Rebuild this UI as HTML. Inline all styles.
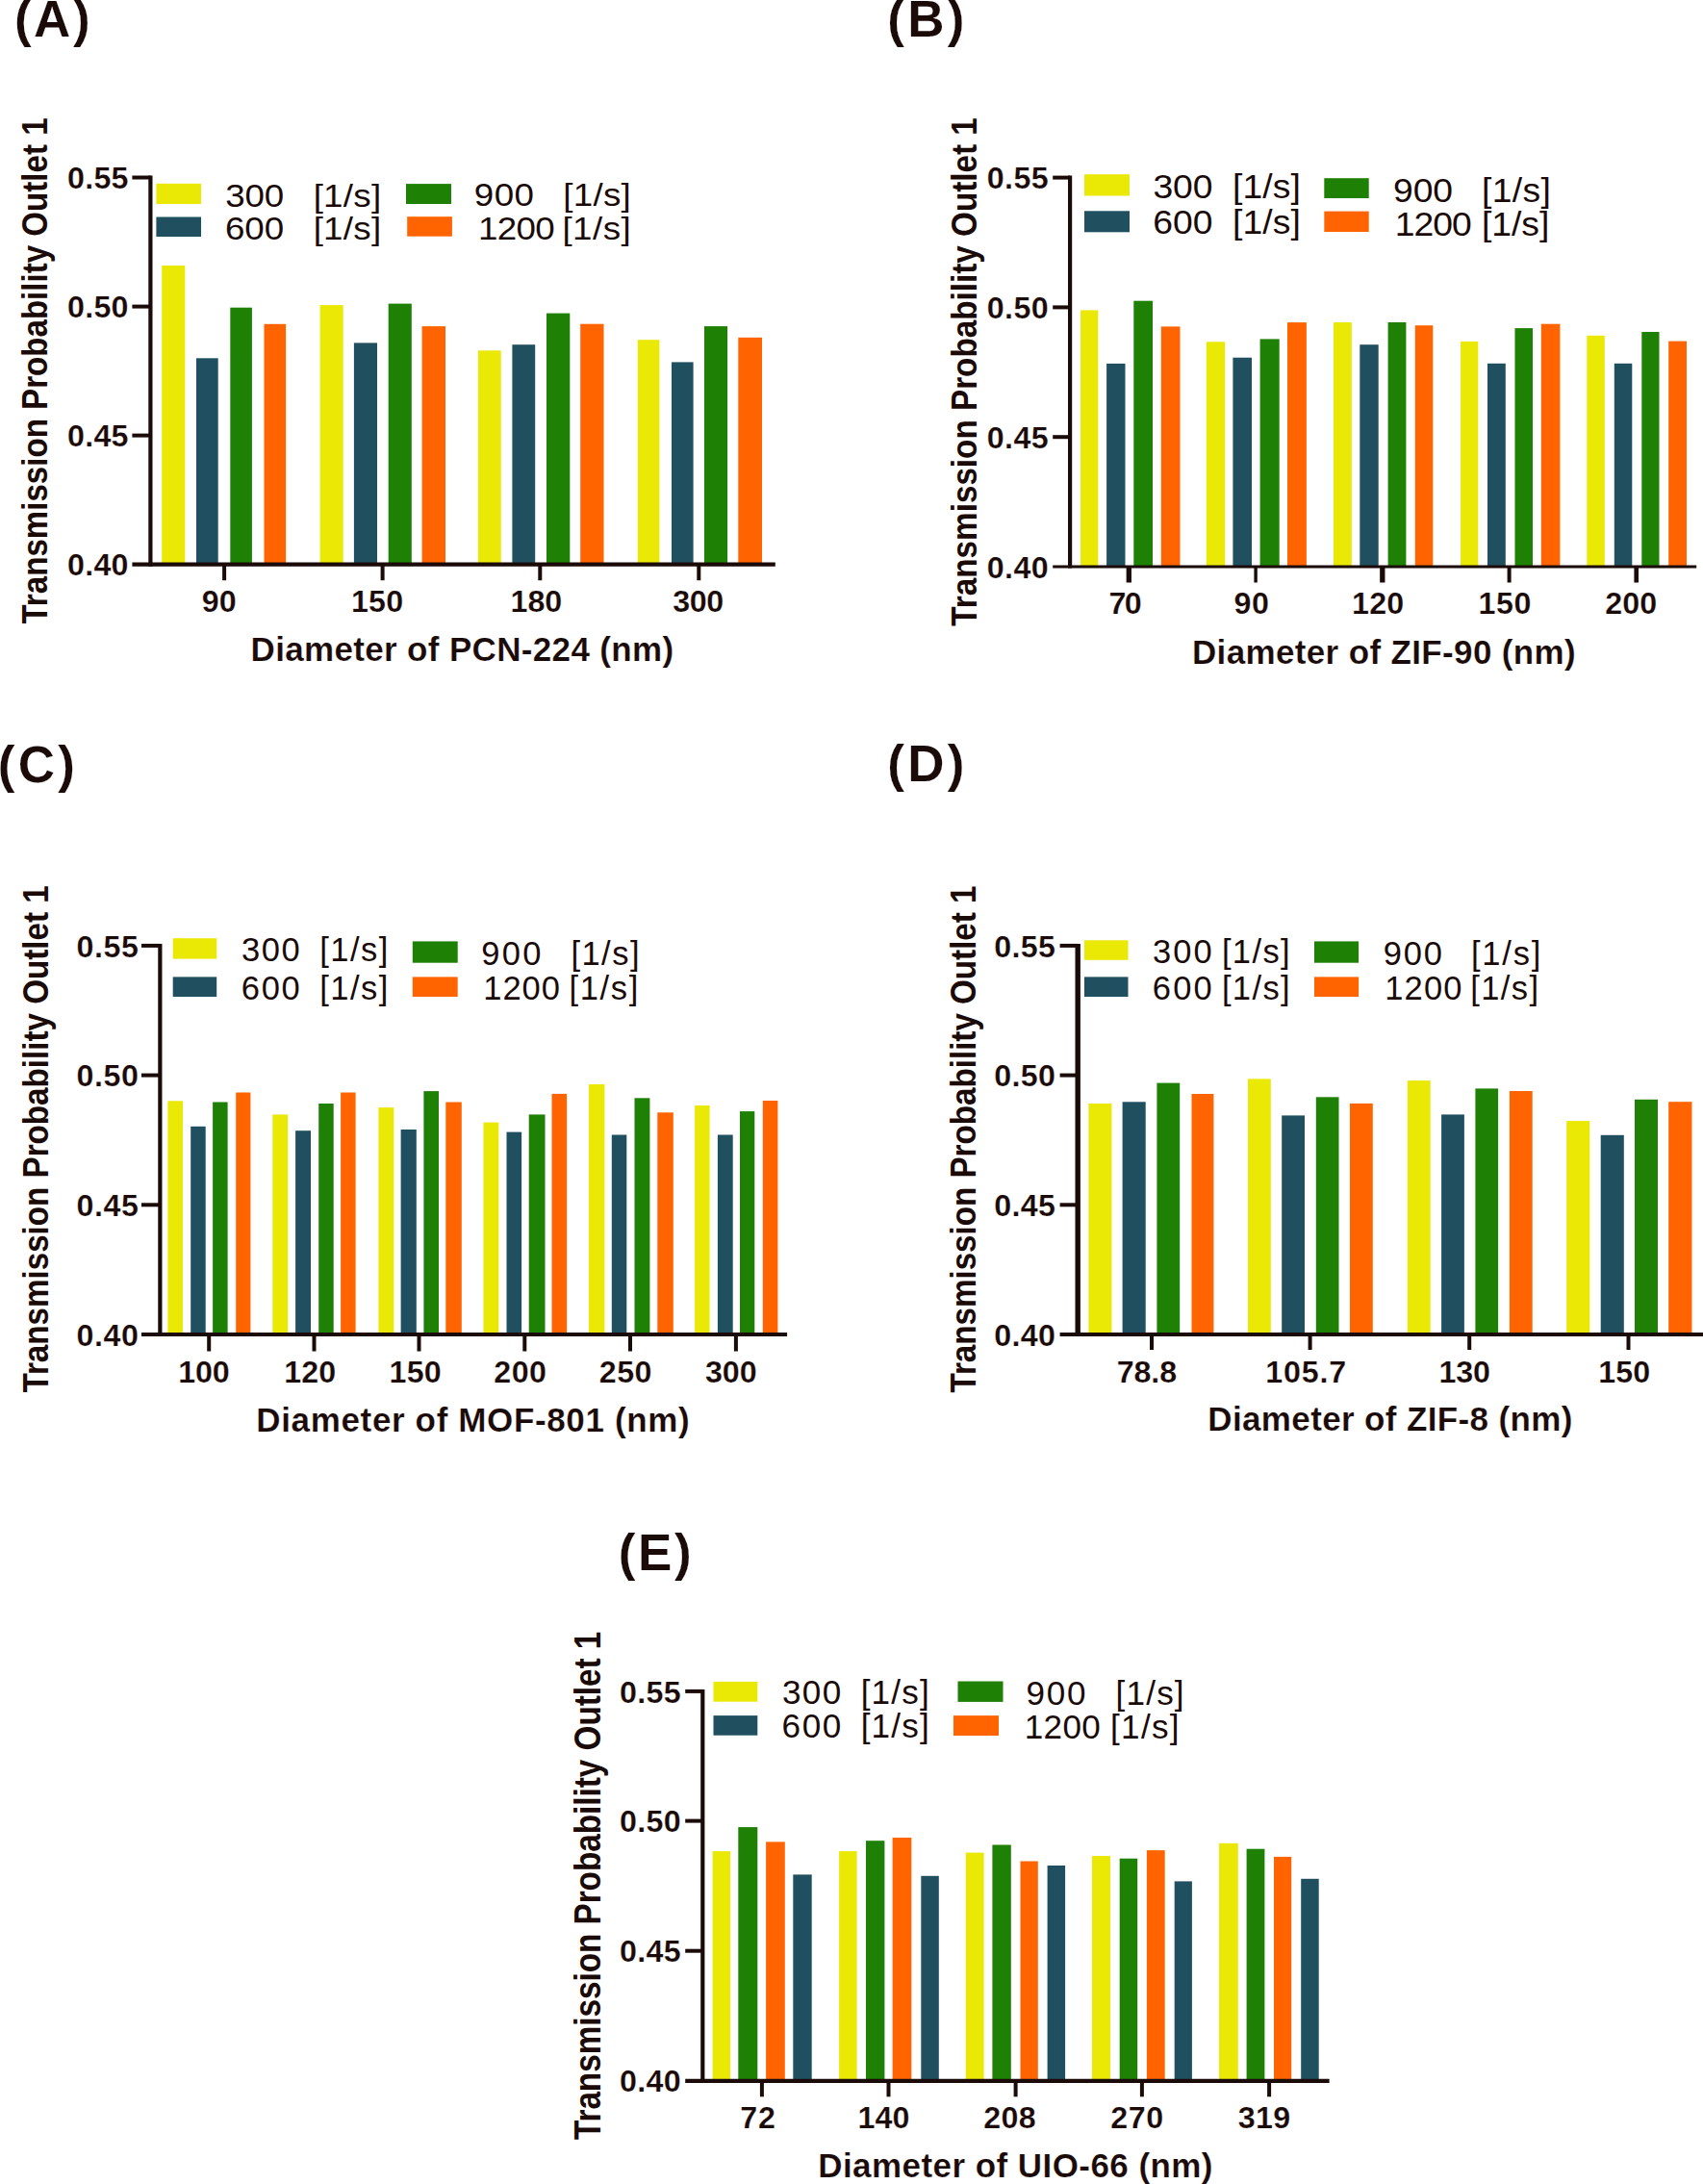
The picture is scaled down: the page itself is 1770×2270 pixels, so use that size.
<!DOCTYPE html>
<html lang="en"><head><meta charset="utf-8"><title>Transmission probability charts</title>
<style>
html,body{margin:0;padding:0;background:#fff}
body{width:1770px;height:2270px;overflow:hidden}
svg{display:block}
svg text.r{font-weight:400;stroke-width:0}
svg text.v{stroke-width:0}
svg text{font-family:"Liberation Sans",sans-serif;font-weight:700;fill:#1a0a08;stroke:#fff;stroke-width:.2px}
</style></head><body>
<svg width="1770" height="2270" viewBox="0 0 1770 2270">
<g>
<rect x="168.2" y="276" width="24.1" height="310.7" fill="#eae805"/>
<rect x="204" y="372.3" width="22.7" height="214.4" fill="#20505f"/>
<rect x="239.3" y="319.7" width="22.6" height="267" fill="#1e8005"/>
<rect x="274.5" y="336.8" width="22.6" height="249.9" fill="#ff6400"/>
<rect x="332.6" y="317.1" width="24.1" height="269.6" fill="#eae805"/>
<rect x="367.9" y="356.4" width="24.1" height="230.3" fill="#20505f"/>
<rect x="403.7" y="315.6" width="24.1" height="271.1" fill="#1e8005"/>
<rect x="438.6" y="339.1" width="24.4" height="247.6" fill="#ff6400"/>
<rect x="496.9" y="364.3" width="23.8" height="222.4" fill="#eae805"/>
<rect x="532.4" y="358.2" width="23.8" height="228.5" fill="#20505f"/>
<rect x="568" y="325.6" width="24.3" height="261.1" fill="#1e8005"/>
<rect x="603.2" y="336.7" width="24.3" height="250" fill="#ff6400"/>
<rect x="662.8" y="353.2" width="22.6" height="233.5" fill="#eae805"/>
<rect x="698" y="376.4" width="22.6" height="210.3" fill="#20505f"/>
<rect x="732" y="339.1" width="24.1" height="247.6" fill="#1e8005"/>
<rect x="767.3" y="350.8" width="24.7" height="235.9" fill="#ff6400"/>
<path d="M156.4 182.5L156.4 588.8" stroke="#1a0a08" stroke-width="4.2"/>
<path d="M137.4 586.7L805.8 586.7" stroke="#1a0a08" stroke-width="4.2"/>
<path d="M137.4 184.5L156.4 184.5" stroke="#1a0a08" stroke-width="4"/>
<path d="M137.4 318.6L156.4 318.6" stroke="#1a0a08" stroke-width="4"/>
<path d="M137.4 452.6L156.4 452.6" stroke="#1a0a08" stroke-width="4"/>
<path d="M233.1 586.7L233.1 603.2" stroke="#1a0a08" stroke-width="4"/>
<path d="M397.6 586.7L397.6 603.2" stroke="#1a0a08" stroke-width="4"/>
<path d="M561.3 586.7L561.3 603.2" stroke="#1a0a08" stroke-width="4"/>
<path d="M726.3 586.7L726.3 603.2" stroke="#1a0a08" stroke-width="4"/>
<text transform="translate(70.01 196.1) scale(1.03 1)" font-size="31.3" letter-spacing="0.26">0.55</text>
<text transform="translate(70.01 330.2) scale(1.03 1)" font-size="31.3" letter-spacing="0.26">0.50</text>
<text transform="translate(70.01 464.2) scale(1.03 1)" font-size="31.3" letter-spacing="0.26">0.45</text>
<text transform="translate(70.01 598.3) scale(1.03 1)" font-size="31.3" letter-spacing="0.26">0.40</text>
<text transform="translate(209.67 635.8) scale(1.03 1)" font-size="31.3" letter-spacing="0.13">90</text>
<text transform="translate(364.9 635.8) scale(1.03 1)" font-size="31.3" letter-spacing="0.25">150</text>
<text transform="translate(530.6 635.8) scale(1.03 1)" font-size="31.3" letter-spacing="-0.05">180</text>
<text transform="translate(699.19 635.8) scale(1.03 1)" font-size="31.3" letter-spacing="-0.33">300</text>
<text transform="translate(260.53 686.7)" font-size="35" letter-spacing="0.34">Diameter of PCN-224 (nm)</text>
<text class="v" transform="translate(49.3 648.53) rotate(-90) scale(1 1.1162)" font-size="33.11">Transmission Probability Outlet 1</text>
<text transform="translate(14.95 38)" font-size="53" letter-spacing="2.52">(A)</text>
<rect x="162.4" y="190.8" width="46.6" height="21.2" fill="#eae805"/>
<rect x="162.4" y="225.5" width="46.6" height="20.5" fill="#20505f"/>
<rect x="422" y="191.1" width="47" height="20.9" fill="#1e8005"/>
<rect x="423.2" y="225.2" width="46.7" height="20.5" fill="#ff6400"/>
<text transform="translate(234.33 214.5) scale(1.08 1)" font-size="34" letter-spacing="-0.19" class="r">300</text>
<text transform="translate(325.63 214.5) scale(1.08 1)" font-size="34" letter-spacing="0.26" class="r">[1/s]</text>
<text transform="translate(233.96 249.1) scale(1.08 1)" font-size="34" letter-spacing="-0.02" class="r">600</text>
<text transform="translate(325.63 249.1) scale(1.08 1)" font-size="34" letter-spacing="0.26" class="r">[1/s]</text>
<text transform="translate(492.85 214.1) scale(1.08 1)" font-size="34" letter-spacing="0.36" class="r">900</text>
<text transform="translate(585.33 214.1) scale(1.08 1)" font-size="34" letter-spacing="0.26" class="r">[1/s]</text>
<text transform="translate(497.05 248.5) scale(1.08 1)" font-size="34" letter-spacing="-0.61" class="r">1200</text>
<text transform="translate(584.43 248.5) scale(1.08 1)" font-size="34" letter-spacing="0.45" class="r">[1/s]</text>
</g>
<g>
<rect x="1123.1" y="322.4" width="18.2" height="266.6" fill="#eae805"/>
<rect x="1150.1" y="377.9" width="19.4" height="211.1" fill="#20505f"/>
<rect x="1178.3" y="312.7" width="19.7" height="276.3" fill="#1e8005"/>
<rect x="1206.8" y="339.4" width="19.7" height="249.6" fill="#ff6400"/>
<rect x="1253.8" y="355.3" width="19.4" height="233.7" fill="#eae805"/>
<rect x="1281.4" y="371.7" width="19.6" height="217.3" fill="#20505f"/>
<rect x="1309.6" y="352.4" width="20.1" height="236.6" fill="#1e8005"/>
<rect x="1338" y="335.1" width="19.9" height="253.9" fill="#ff6400"/>
<rect x="1386" y="335" width="18.8" height="254" fill="#eae805"/>
<rect x="1413.3" y="358.2" width="19.4" height="230.8" fill="#20505f"/>
<rect x="1442.6" y="335" width="18.8" height="254" fill="#1e8005"/>
<rect x="1470.8" y="338.2" width="18.5" height="250.8" fill="#ff6400"/>
<rect x="1518.1" y="354.9" width="18.2" height="234.1" fill="#eae805"/>
<rect x="1546" y="377.8" width="18.8" height="211.2" fill="#20505f"/>
<rect x="1574.5" y="341.1" width="18.5" height="247.9" fill="#1e8005"/>
<rect x="1601.8" y="336.7" width="19.6" height="252.3" fill="#ff6400"/>
<rect x="1649.3" y="348.8" width="18.5" height="240.2" fill="#eae805"/>
<rect x="1677.8" y="377.8" width="18.5" height="211.2" fill="#20505f"/>
<rect x="1706.3" y="345" width="18.2" height="244" fill="#1e8005"/>
<rect x="1734.2" y="354.6" width="18.8" height="234.4" fill="#ff6400"/>
<path d="M1112.1 182.6L1112.1 590.4" stroke="#1a0a08" stroke-width="4.2"/>
<path d="M1094.2 589L1763.2 589" stroke="#1a0a08" stroke-width="2.8"/>
<path d="M1094.2 184.6L1112.1 184.6" stroke="#1a0a08" stroke-width="4"/>
<path d="M1094.2 319.4L1112.1 319.4" stroke="#1a0a08" stroke-width="4"/>
<path d="M1094.2 454.2L1112.1 454.2" stroke="#1a0a08" stroke-width="4"/>
<path d="M1173.3 589L1173.3 605.5" stroke="#1a0a08" stroke-width="5.3"/>
<path d="M1305.1 589L1305.1 605.5" stroke="#1a0a08" stroke-width="3.4"/>
<path d="M1436.8 589L1436.8 605.5" stroke="#1a0a08" stroke-width="5.3"/>
<path d="M1568.6 589L1568.6 605.5" stroke="#1a0a08" stroke-width="4"/>
<path d="M1700.7 589L1700.7 605.5" stroke="#1a0a08" stroke-width="4.6"/>
<text transform="translate(1025.81 196.2) scale(1.03 1)" font-size="31.3" letter-spacing="0.35">0.55</text>
<text transform="translate(1025.81 331) scale(1.03 1)" font-size="31.3" letter-spacing="0.35">0.50</text>
<text transform="translate(1025.81 465.8) scale(1.03 1)" font-size="31.3" letter-spacing="0.35">0.45</text>
<text transform="translate(1025.81 600.6) scale(1.03 1)" font-size="31.3" letter-spacing="0.35">0.40</text>
<text transform="translate(1152.55 638.1) scale(1.03 1)" font-size="31.3" letter-spacing="-1.6">70</text>
<text transform="translate(1282.57 638.1) scale(1.03 1)" font-size="31.3" letter-spacing="0.42">90</text>
<text transform="translate(1405 638.1) scale(1.03 1)" font-size="31.3" letter-spacing="0.25">120</text>
<text transform="translate(1536.5 638.1) scale(1.03 1)" font-size="31.3" letter-spacing="0.54">150</text>
<text transform="translate(1668.17 638.1) scale(1.03 1)" font-size="31.3" letter-spacing="0.07">200</text>
<text transform="translate(1238.92 689.6)" font-size="35" letter-spacing="0.36">Diameter of ZIF-90 (nm)</text>
<text class="v" transform="translate(1014.5 650.63) rotate(-90) scale(1 1.1374)" font-size="33.26">Transmission Probability Outlet 1</text>
<text transform="translate(922.25 38)" font-size="53" letter-spacing="3.26">(B)</text>
<rect x="1127" y="181.2" width="47" height="22.3" fill="#eae805"/>
<rect x="1127" y="219.3" width="47" height="22" fill="#20505f"/>
<rect x="1376.3" y="185.2" width="46.4" height="20.8" fill="#1e8005"/>
<rect x="1376.3" y="219.6" width="46.4" height="21.4" fill="#ff6400"/>
<text transform="translate(1198.51 206.1) scale(1.05 1)" font-size="35.5" letter-spacing="-0.13" class="r">300</text>
<text transform="translate(1280.89 206.1) scale(1.05 1)" font-size="35.5" letter-spacing="0.16" class="r">[1/s]</text>
<text transform="translate(1198.14 243.4) scale(1.05 1)" font-size="35.5" letter-spacing="0.04" class="r">600</text>
<text transform="translate(1280.89 243.4) scale(1.05 1)" font-size="35.5" letter-spacing="0.16" class="r">[1/s]</text>
<text transform="translate(1448.02 209.9) scale(1.05 1)" font-size="35.5" letter-spacing="-0.09" class="r">900</text>
<text transform="translate(1539.89 209.9) scale(1.05 1)" font-size="35.5" letter-spacing="0.37" class="r">[1/s]</text>
<text transform="translate(1449.8 244.6) scale(1.05 1)" font-size="35.5" letter-spacing="-0.9" class="r">1200</text>
<text transform="translate(1539.89 244.6) scale(1.05 1)" font-size="35.5" letter-spacing="0.01" class="r">[1/s]</text>
</g>
<g>
<rect x="174.4" y="1144.3" width="15.6" height="242.7" fill="#eae805"/>
<rect x="198.2" y="1170.8" width="15.5" height="216.2" fill="#20505f"/>
<rect x="221.1" y="1145.5" width="15.5" height="241.5" fill="#1e8005"/>
<rect x="245.2" y="1135.5" width="15.2" height="251.5" fill="#ff6400"/>
<rect x="283.3" y="1158.4" width="15.9" height="228.6" fill="#eae805"/>
<rect x="307.1" y="1175.2" width="15.9" height="211.8" fill="#20505f"/>
<rect x="331.2" y="1147" width="15.5" height="240" fill="#1e8005"/>
<rect x="354.1" y="1135.5" width="15.5" height="251.5" fill="#ff6400"/>
<rect x="393.4" y="1151.1" width="15.9" height="235.9" fill="#eae805"/>
<rect x="416.6" y="1174" width="16.2" height="213" fill="#20505f"/>
<rect x="440.4" y="1134.1" width="15.6" height="252.9" fill="#1e8005"/>
<rect x="463.3" y="1145.5" width="16.5" height="241.5" fill="#ff6400"/>
<rect x="502.5" y="1166.6" width="15.8" height="220.4" fill="#eae805"/>
<rect x="526.5" y="1176.6" width="15.6" height="210.4" fill="#20505f"/>
<rect x="549.7" y="1158.4" width="16.8" height="228.6" fill="#1e8005"/>
<rect x="573.5" y="1136.9" width="15.6" height="250.1" fill="#ff6400"/>
<rect x="612" y="1127" width="16.4" height="260" fill="#eae805"/>
<rect x="635.8" y="1179.5" width="15.5" height="207.5" fill="#20505f"/>
<rect x="659.5" y="1141.3" width="15.9" height="245.7" fill="#1e8005"/>
<rect x="683.3" y="1156.3" width="16.5" height="230.7" fill="#ff6400"/>
<rect x="722.1" y="1149" width="15.5" height="238" fill="#eae805"/>
<rect x="745.9" y="1179.5" width="15.8" height="207.5" fill="#20505f"/>
<rect x="769" y="1155.1" width="15.3" height="231.9" fill="#1e8005"/>
<rect x="792.8" y="1144" width="15.6" height="243" fill="#ff6400"/>
<path d="M166.35 980.9L166.35 1389.1" stroke="#1a0a08" stroke-width="4.2"/>
<path d="M147 1387L818.1 1387" stroke="#1a0a08" stroke-width="4.2"/>
<path d="M147 982.9L166.35 982.9" stroke="#1a0a08" stroke-width="4"/>
<path d="M147 1117.6L166.35 1117.6" stroke="#1a0a08" stroke-width="4"/>
<path d="M147 1252.3L166.35 1252.3" stroke="#1a0a08" stroke-width="4"/>
<path d="M217.2 1387L217.2 1404.5" stroke="#1a0a08" stroke-width="4"/>
<path d="M326.5 1387L326.5 1404.5" stroke="#1a0a08" stroke-width="4"/>
<path d="M435.5 1387L435.5 1404.5" stroke="#1a0a08" stroke-width="4"/>
<path d="M545.3 1387L545.3 1404.5" stroke="#1a0a08" stroke-width="4"/>
<path d="M655 1387L655 1404.5" stroke="#1a0a08" stroke-width="4"/>
<path d="M764.9 1387L764.9 1404.5" stroke="#1a0a08" stroke-width="4"/>
<text transform="translate(79.41 994.5) scale(1.03 1)" font-size="31.3" letter-spacing="0.55">0.55</text>
<text transform="translate(79.41 1129.2) scale(1.03 1)" font-size="31.3" letter-spacing="0.55">0.50</text>
<text transform="translate(79.41 1263.9) scale(1.03 1)" font-size="31.3" letter-spacing="0.55">0.45</text>
<text transform="translate(79.41 1398.6) scale(1.03 1)" font-size="31.3" letter-spacing="0.55">0.40</text>
<text transform="translate(185.2 1437.4) scale(1.03 1)" font-size="31.3" letter-spacing="-0.19">100</text>
<text transform="translate(295.3 1437.4) scale(1.03 1)" font-size="31.3" letter-spacing="0.1">120</text>
<text transform="translate(404.5 1437.4) scale(1.03 1)" font-size="31.3" letter-spacing="0.25">150</text>
<text transform="translate(513.37 1437.4) scale(1.03 1)" font-size="31.3" letter-spacing="0.36">200</text>
<text transform="translate(622.87 1437.4) scale(1.03 1)" font-size="31.3" letter-spacing="0.36">250</text>
<text transform="translate(732.99 1437.4) scale(1.03 1)" font-size="31.3" letter-spacing="-0.09">300</text>
<text transform="translate(266.33 1488.1)" font-size="35" letter-spacing="0.64">Diameter of MOF-801 (nm)</text>
<text class="v" transform="translate(49.9 1447.53) rotate(-90) scale(1 1.1137)" font-size="33.18">Transmission Probability Outlet 1</text>
<text transform="translate(-2.15 813)" font-size="53" letter-spacing="3.21">(C)</text>
<rect x="179.7" y="975.2" width="45.5" height="21.4" fill="#eae805"/>
<rect x="179.7" y="1015.4" width="45.5" height="20.6" fill="#20505f"/>
<rect x="428.8" y="978.4" width="46.9" height="22.3" fill="#1e8005"/>
<rect x="428.8" y="1015.4" width="46.9" height="20.6" fill="#ff6400"/>
<text transform="translate(251.12 998.9) scale(0.98 1)" font-size="35.2" letter-spacing="1.59" class="r">300</text>
<text transform="translate(332.29 998.9) scale(0.98 1)" font-size="35.2" letter-spacing="1.51" class="r">[1/s]</text>
<text transform="translate(250.78 1038.6) scale(0.98 1)" font-size="35.2" letter-spacing="1.77" class="r">600</text>
<text transform="translate(332.29 1038.6) scale(0.98 1)" font-size="35.2" letter-spacing="1.51" class="r">[1/s]</text>
<text transform="translate(500.35 1003) scale(0.98 1)" font-size="35.2" letter-spacing="2.29" class="r">900</text>
<text transform="translate(593.39 1003) scale(0.98 1)" font-size="35.2" letter-spacing="1.51" class="r">[1/s]</text>
<text transform="translate(502.21 1039.1) scale(0.98 1)" font-size="35.2" letter-spacing="1.02" class="r">1200</text>
<text transform="translate(591.39 1039.1) scale(0.98 1)" font-size="35.2" letter-spacing="1.71" class="r">[1/s]</text>
</g>
<g>
<rect x="1131.4" y="1147" width="24" height="240" fill="#eae805"/>
<rect x="1166.6" y="1145.3" width="24.1" height="241.7" fill="#20505f"/>
<rect x="1202.4" y="1125.6" width="23.8" height="261.4" fill="#1e8005"/>
<rect x="1238.5" y="1137" width="22.9" height="250" fill="#ff6400"/>
<rect x="1297" y="1121.4" width="23.8" height="265.6" fill="#eae805"/>
<rect x="1332.2" y="1159.4" width="23.8" height="227.6" fill="#20505f"/>
<rect x="1367.8" y="1140.3" width="23.7" height="246.7" fill="#1e8005"/>
<rect x="1403" y="1146.9" width="23.8" height="240.1" fill="#ff6400"/>
<rect x="1462.9" y="1123.1" width="23.8" height="263.9" fill="#eae805"/>
<rect x="1498.1" y="1158.4" width="23.8" height="228.6" fill="#20505f"/>
<rect x="1533.4" y="1131.4" width="23.7" height="255.6" fill="#1e8005"/>
<rect x="1568.9" y="1134" width="23.8" height="253" fill="#ff6400"/>
<rect x="1628.2" y="1165.1" width="24.1" height="221.9" fill="#eae805"/>
<rect x="1663.7" y="1179.8" width="24.1" height="207.2" fill="#20505f"/>
<rect x="1699" y="1142.8" width="24" height="244.2" fill="#1e8005"/>
<rect x="1734.2" y="1145.2" width="24.3" height="241.8" fill="#ff6400"/>
<path d="M1120.2 980.9L1120.2 1389.1" stroke="#1a0a08" stroke-width="5.4"/>
<path d="M1101.6 1387L1770 1387" stroke="#1a0a08" stroke-width="4.2"/>
<path d="M1101.6 982.9L1120.2 982.9" stroke="#1a0a08" stroke-width="4"/>
<path d="M1101.6 1117.6L1120.2 1117.6" stroke="#1a0a08" stroke-width="4"/>
<path d="M1101.6 1252.3L1120.2 1252.3" stroke="#1a0a08" stroke-width="4"/>
<path d="M1197 1387L1197 1403" stroke="#1a0a08" stroke-width="4"/>
<path d="M1361.6 1387L1361.6 1403" stroke="#1a0a08" stroke-width="4"/>
<path d="M1527.2 1387L1527.2 1403" stroke="#1a0a08" stroke-width="4"/>
<path d="M1692.5 1387L1692.5 1403" stroke="#1a0a08" stroke-width="4"/>
<text transform="translate(1033.21 994.5) scale(1.03 1)" font-size="31.3" letter-spacing="0.32">0.55</text>
<text transform="translate(1033.21 1129.2) scale(1.03 1)" font-size="31.3" letter-spacing="0.32">0.50</text>
<text transform="translate(1033.21 1263.9) scale(1.03 1)" font-size="31.3" letter-spacing="0.32">0.45</text>
<text transform="translate(1033.21 1398.6) scale(1.03 1)" font-size="31.3" letter-spacing="0.32">0.40</text>
<text transform="translate(1160.75 1436.6) scale(1.03 1)" font-size="31.3" letter-spacing="-0.13">78.8</text>
<text transform="translate(1315.3 1436.6) scale(1.03 1)" font-size="31.3" letter-spacing="0.79">105.7</text>
<text transform="translate(1495.4 1436.6) scale(1.03 1)" font-size="31.3" letter-spacing="-0.14">130</text>
<text transform="translate(1661.3 1436.6) scale(1.03 1)" font-size="31.3" letter-spacing="0.1">150</text>
<text transform="translate(1255.32 1487.2)" font-size="35" letter-spacing="0.36">Diameter of ZIF-8 (nm)</text>
<text class="v" transform="translate(1014.2 1447.53) rotate(-90) scale(1 1.1268)" font-size="33.18">Transmission Probability Outlet 1</text>
<text transform="translate(922.25 812.4)" font-size="53" letter-spacing="3.26">(D)</text>
<rect x="1127" y="977.3" width="45.5" height="20.5" fill="#eae805"/>
<rect x="1127" y="1015.4" width="45.5" height="20.6" fill="#20505f"/>
<rect x="1366" y="978.4" width="46.1" height="22.3" fill="#1e8005"/>
<rect x="1366" y="1015.4" width="46.1" height="20.6" fill="#ff6400"/>
<text transform="translate(1198.12 1001) scale(0.98 1)" font-size="35.2" letter-spacing="2.05" class="r">300</text>
<text transform="translate(1269.89 1001) scale(0.98 1)" font-size="35.2" letter-spacing="1.43" class="r">[1/s]</text>
<text transform="translate(1197.78 1038.6) scale(0.98 1)" font-size="35.2" letter-spacing="2.23" class="r">600</text>
<text transform="translate(1269.89 1038.6) scale(0.98 1)" font-size="35.2" letter-spacing="1.43" class="r">[1/s]</text>
<text transform="translate(1437.85 1003) scale(0.98 1)" font-size="35.2" letter-spacing="1.83" class="r">900</text>
<text transform="translate(1528.89 1003) scale(0.98 1)" font-size="35.2" letter-spacing="1.86" class="r">[1/s]</text>
<text transform="translate(1439.21 1039.1) scale(0.98 1)" font-size="35.2" letter-spacing="1.2" class="r">1200</text>
<text transform="translate(1528.29 1039.1) scale(0.98 1)" font-size="35.2" letter-spacing="1.43" class="r">[1/s]</text>
</g>
<g>
<rect x="740.6" y="1924.1" width="18.5" height="238.7" fill="#eae805"/>
<rect x="767.3" y="1899.1" width="20" height="263.7" fill="#1e8005"/>
<rect x="796.1" y="1914.4" width="19.7" height="248.4" fill="#ff6400"/>
<rect x="824.3" y="1948.4" width="19.4" height="214.4" fill="#20505f"/>
<rect x="872.1" y="1924.1" width="18.5" height="238.7" fill="#eae805"/>
<rect x="900" y="1913.2" width="19.4" height="249.6" fill="#1e8005"/>
<rect x="927.6" y="1910" width="19.7" height="252.8" fill="#ff6400"/>
<rect x="957.3" y="1949.8" width="18.5" height="213" fill="#20505f"/>
<rect x="1003.7" y="1925.6" width="18.9" height="237.2" fill="#eae805"/>
<rect x="1031.4" y="1917.5" width="19.4" height="245.3" fill="#1e8005"/>
<rect x="1060.5" y="1934.5" width="18.3" height="228.3" fill="#ff6400"/>
<rect x="1088.6" y="1939" width="18.5" height="223.8" fill="#20505f"/>
<rect x="1135" y="1929" width="19" height="233.8" fill="#eae805"/>
<rect x="1163.7" y="1931.7" width="18.5" height="231.1" fill="#1e8005"/>
<rect x="1191.9" y="1923.1" width="18.8" height="239.7" fill="#ff6400"/>
<rect x="1220.7" y="1955.4" width="18.2" height="207.4" fill="#20505f"/>
<rect x="1267.1" y="1915.8" width="19.7" height="247" fill="#eae805"/>
<rect x="1295.6" y="1921.7" width="18.8" height="241.1" fill="#1e8005"/>
<rect x="1324" y="1929.9" width="18.2" height="232.9" fill="#ff6400"/>
<rect x="1352.2" y="1952.8" width="18.5" height="210" fill="#20505f"/>
<path d="M730.3 1755.9L730.3 2164.9" stroke="#1a0a08" stroke-width="4.2"/>
<path d="M712.2 2162.8L1381.6 2162.8" stroke="#1a0a08" stroke-width="4.2"/>
<path d="M712.2 1757.9L730.3 1757.9" stroke="#1a0a08" stroke-width="4"/>
<path d="M712.2 1892.6L730.3 1892.6" stroke="#1a0a08" stroke-width="4"/>
<path d="M712.2 2027.7L730.3 2027.7" stroke="#1a0a08" stroke-width="4"/>
<path d="M791.9 2162.8L791.9 2179.3" stroke="#1a0a08" stroke-width="4"/>
<path d="M923.5 2162.8L923.5 2179.3" stroke="#1a0a08" stroke-width="4"/>
<path d="M1055.6 2162.8L1055.6 2179.3" stroke="#1a0a08" stroke-width="4"/>
<path d="M1186.9 2162.8L1186.9 2179.3" stroke="#1a0a08" stroke-width="4"/>
<path d="M1319.1 2162.8L1319.1 2179.3" stroke="#1a0a08" stroke-width="4"/>
<text transform="translate(643.91 1769.5) scale(1.03 1)" font-size="31.3" letter-spacing="0.32">0.55</text>
<text transform="translate(643.91 1904.2) scale(1.03 1)" font-size="31.3" letter-spacing="0.32">0.50</text>
<text transform="translate(643.91 2039.3) scale(1.03 1)" font-size="31.3" letter-spacing="0.32">0.45</text>
<text transform="translate(643.91 2174.4) scale(1.03 1)" font-size="31.3" letter-spacing="0.32">0.40</text>
<text transform="translate(769.35 2211.9) scale(1.03 1)" font-size="31.3" letter-spacing="0.73">72</text>
<text transform="translate(891.5 2211.9) scale(1.03 1)" font-size="31.3" letter-spacing="0.1">140</text>
<text transform="translate(1022.17 2211.9) scale(1.03 1)" font-size="31.3" letter-spacing="0.3">208</text>
<text transform="translate(1154.37 2211.9) scale(1.03 1)" font-size="31.3" letter-spacing="0.5">270</text>
<text transform="translate(1286.79 2211.9) scale(1.03 1)" font-size="31.3" letter-spacing="0.27">319</text>
<text transform="translate(850.23 2263.3)" font-size="35" letter-spacing="0.44">Diameter of UIO-66 (nm)</text>
<text class="v" transform="translate(624 2224.03) rotate(-90) scale(1 1.1503)" font-size="33.26">Transmission Probability Outlet 1</text>
<text transform="translate(642.75 1632.3)" font-size="53" letter-spacing="2.57">(E)</text>
<rect x="741.5" y="1747.9" width="45.8" height="20.8" fill="#eae805"/>
<rect x="741.5" y="1783.1" width="45.8" height="20.6" fill="#20505f"/>
<rect x="995.5" y="1747.5" width="47" height="21.4" fill="#1e8005"/>
<rect x="991" y="1783.1" width="47" height="20.9" fill="#ff6400"/>
<text transform="translate(812.9 1770.7) scale(0.98 1)" font-size="35.8" letter-spacing="1.42" class="r">300</text>
<text transform="translate(894.64 1770.7) scale(0.98 1)" font-size="35.8" letter-spacing="1.22" class="r">[1/s]</text>
<text transform="translate(812.55 1806.3) scale(0.98 1)" font-size="35.8" letter-spacing="1.6" class="r">600</text>
<text transform="translate(894.64 1806.3) scale(0.98 1)" font-size="35.8" letter-spacing="1.22" class="r">[1/s]</text>
<text transform="translate(1066.42 1771.6) scale(0.98 1)" font-size="35.8" letter-spacing="1.82" class="r">900</text>
<text transform="translate(1159.54 1771.6) scale(0.98 1)" font-size="35.8" letter-spacing="1.22" class="r">[1/s]</text>
<text transform="translate(1064.77 1806.8) scale(0.98 1)" font-size="35.8" letter-spacing="0.3" class="r">1200</text>
<text transform="translate(1153.94 1806.8) scale(0.98 1)" font-size="35.8" letter-spacing="1.37" class="r">[1/s]</text>
</g>
</svg>
</body></html>
